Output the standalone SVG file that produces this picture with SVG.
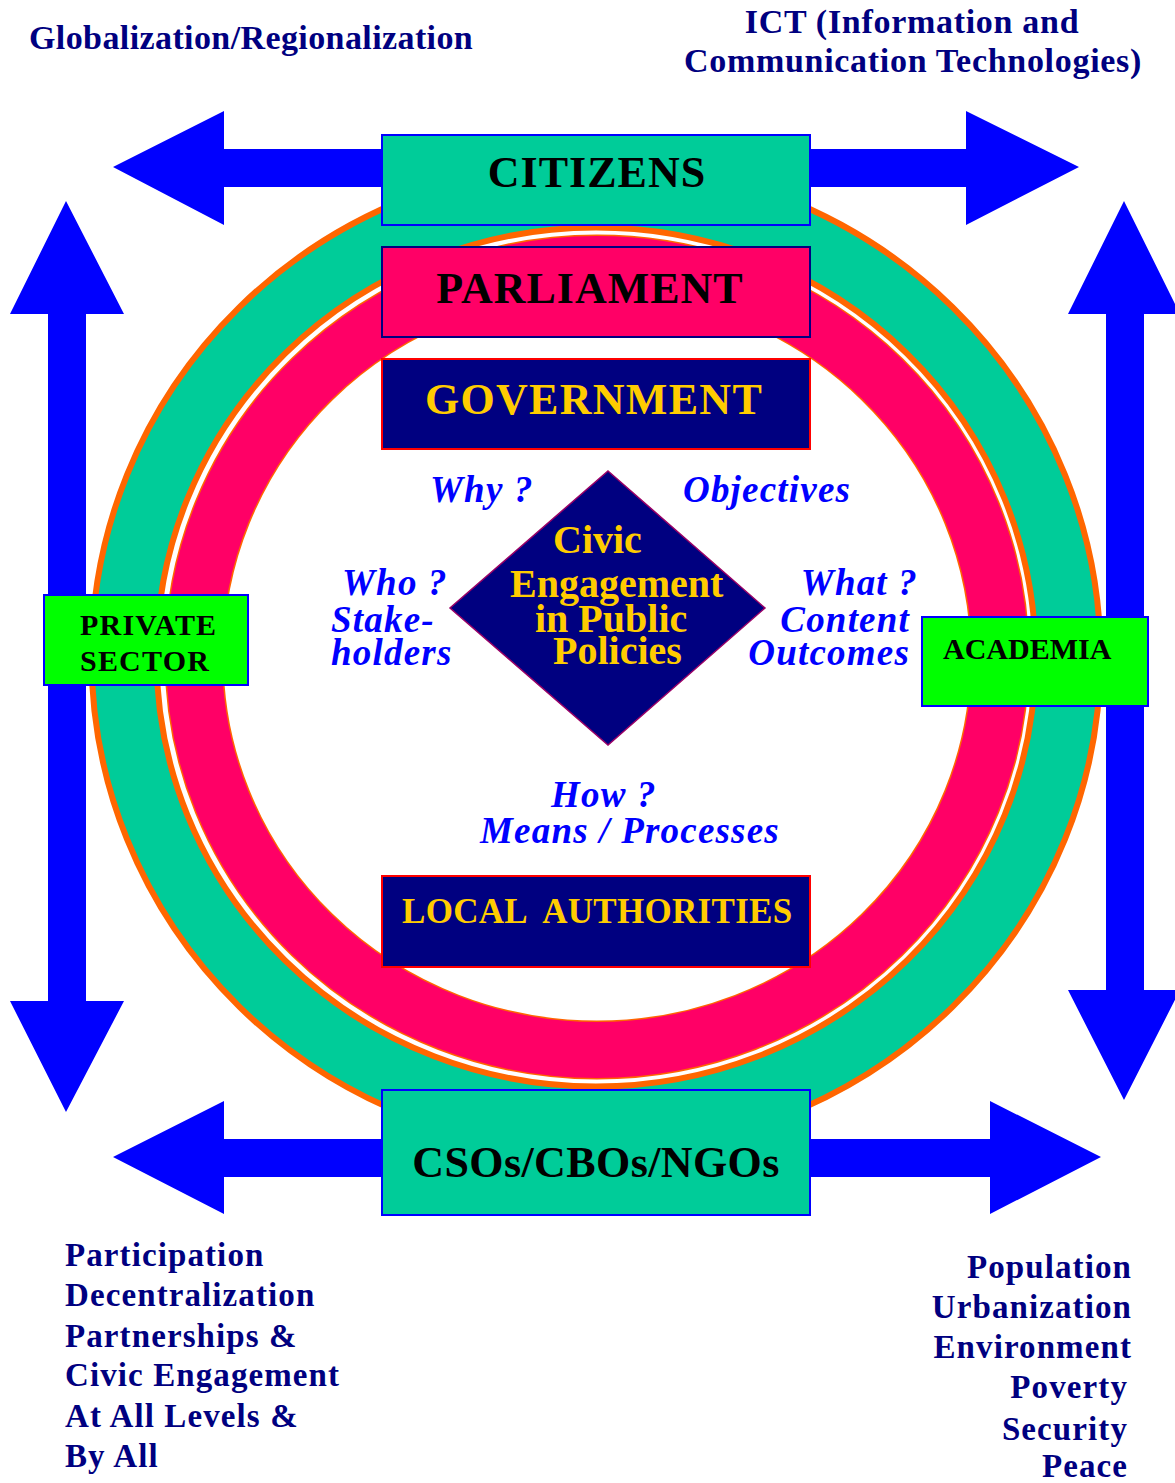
<svg xmlns="http://www.w3.org/2000/svg" width="1175" height="1483" viewBox="0 0 1175 1483">
<style>
.ser{font-family:"Liberation Serif","Times New Roman",serif;font-weight:bold}
.navy{fill:#000080}
.big{font-size:44px;text-anchor:middle;letter-spacing:1px}
.gold{fill:#FFCC00}
.blk{fill:#000000}
.q{font-family:"Liberation Serif","Times New Roman",serif;font-weight:bold;font-style:italic;font-size:37px;letter-spacing:1.2px;fill:#0000FF}
.side{font-size:30px;fill:#000000}
.note{font-size:33px;fill:#000080;letter-spacing:1.1px}
.arrow{fill:#0000FF}
</style>
<rect width="1175" height="1483" fill="#FFFFFF"/>

<g id="connectors">
  <polygon class="arrow" points="113,167 224,111 224,149 966,149 966,111 1079,167 966,225 966,187 224,187 224,225"/>
  <polygon class="arrow" points="113,1157 224,1101 224,1139 990,1139 990,1101 1101,1157 990,1214 990,1177 224,1177 224,1214"/>
  <polygon class="arrow" points="66,201 124,314 86,314 86,1001 124,1001 66,1112 10,1001 48,1001 48,314 10,314"/>
  <polygon class="arrow" points="1124,201 1180,314 1144,314 1144,990 1180,990 1124,1100 1068,990 1106,990 1106,314 1068,314"/>
</g>

<g id="rings">
  <ellipse cx="596" cy="657" rx="472" ry="462" fill="none" stroke="#FF6600" stroke-width="71"/>
  <ellipse cx="596" cy="657" rx="472" ry="462" fill="none" stroke="#00CC99" stroke-width="59"/>
  <ellipse cx="597" cy="657" rx="403" ry="393" fill="none" stroke="#FF6600" stroke-width="59"/>
  <ellipse cx="597" cy="657" rx="403" ry="393" fill="none" stroke="#FF0066" stroke-width="56"/>
</g>

<g id="citizens">
  <rect x="382" y="135" width="428" height="90" fill="#00CC99" stroke="#0000FF" stroke-width="2"/>
  <text class="ser big blk" x="597" y="187">CITIZENS</text>
</g>
<g id="parliament">
  <rect x="382" y="247" width="428" height="90" fill="#FF0066" stroke="#000080" stroke-width="2"/>
  <text class="ser big blk" x="590" y="303">PARLIAMENT</text>
</g>
<g id="government">
  <rect x="382" y="359" width="428" height="90" fill="#000080" stroke="#FF0000" stroke-width="2"/>
  <text class="ser big gold" x="594" y="414" style="letter-spacing:1.3px">GOVERNMENT</text>
</g>
<g id="local-authorities">
  <rect x="382" y="876" width="428" height="91" fill="#000080" stroke="#FF0000" stroke-width="2"/>
  <text class="ser gold" x="402" y="923" font-size="35" letter-spacing="0.3" xml:space="preserve">LOCAL  AUTHORITIES</text>
</g>
<g id="csos">
  <rect x="382" y="1090" width="428" height="125" fill="#00CC99" stroke="#0000FF" stroke-width="2"/>
  <text class="ser big blk" x="596" y="1177" style="letter-spacing:0.4px">CSOs/CBOs/NGOs</text>
</g>
<g id="private-sector">
  <rect x="44" y="595" width="204" height="90" fill="#00FF00" stroke="#0000FF" stroke-width="2"/>
  <text class="ser side" x="80" y="635" letter-spacing="1.2">PRIVATE</text>
  <text class="ser side" x="80" y="671" letter-spacing="1.2">SECTOR</text>
</g>
<g id="academia">
  <rect x="922" y="617" width="226" height="89" fill="#00FF00" stroke="#0000FF" stroke-width="2"/>
  <text class="ser side" x="943" y="659">ACADEMIA</text>
</g>

<g id="civic-engagement">
  <polygon points="608,471 765,608 608,745 450,608" fill="#000080" stroke="#990066" stroke-width="1.5"/>
  <text class="ser gold" font-size="40" x="553" y="553">Civic</text>
  <text class="ser gold" font-size="40" x="510" y="597">Engagement</text>
  <text class="ser gold" font-size="40" x="535" y="632">in Public</text>
  <text class="ser gold" font-size="40" x="553" y="664">Policies</text>
</g>

<g id="questions">
  <text class="q" x="430" y="502">Why ?</text>
  <text class="q" x="683" y="502">Objectives</text>
  <text class="q" x="342" y="595">Who ?</text>
  <text class="q" x="331" y="632">Stake-</text>
  <text class="q" x="331" y="665">holders</text>
  <text class="q" x="918" y="595" text-anchor="end">What ?</text>
  <text class="q" x="910" y="632" text-anchor="end">Content</text>
  <text class="q" x="910" y="665" text-anchor="end">Outcomes</text>
  <text class="q" x="551" y="807">How ?</text>
  <text class="q" x="480" y="843">Means / Processes</text>
</g>

<g id="globalization">
  <text class="ser navy" font-size="34" x="29" y="49" letter-spacing="0.4">Globalization/Regionalization</text>
</g>
<g id="ict">
  <text class="ser navy" font-size="34" x="912" y="33" text-anchor="middle" letter-spacing="0.7">ICT (Information and</text>
  <text class="ser navy" font-size="34" x="913" y="72" text-anchor="middle" letter-spacing="0.7">Communication Technologies)</text>
</g>
<g id="left-notes">
  <text class="ser note" x="65" y="1266">Participation</text>
  <text class="ser note" x="65" y="1306">Decentralization</text>
  <text class="ser note" x="65" y="1347">Partnerships &amp;</text>
  <text class="ser note" x="65" y="1386">Civic Engagement</text>
  <text class="ser note" x="65" y="1427">At All Levels &amp;</text>
  <text class="ser note" x="65" y="1467">By All</text>
</g>
<g id="right-notes">
  <text class="ser note" x="1132" y="1278" text-anchor="end">Population</text>
  <text class="ser note" x="1132" y="1318" text-anchor="end">Urbanization</text>
  <text class="ser note" x="1132" y="1358" text-anchor="end">Environment</text>
  <text class="ser note" x="1128" y="1398" text-anchor="end">Poverty</text>
  <text class="ser note" x="1128" y="1440" text-anchor="end">Security</text>
  <text class="ser note" x="1128" y="1477" text-anchor="end">Peace</text>
</g>
</svg>
